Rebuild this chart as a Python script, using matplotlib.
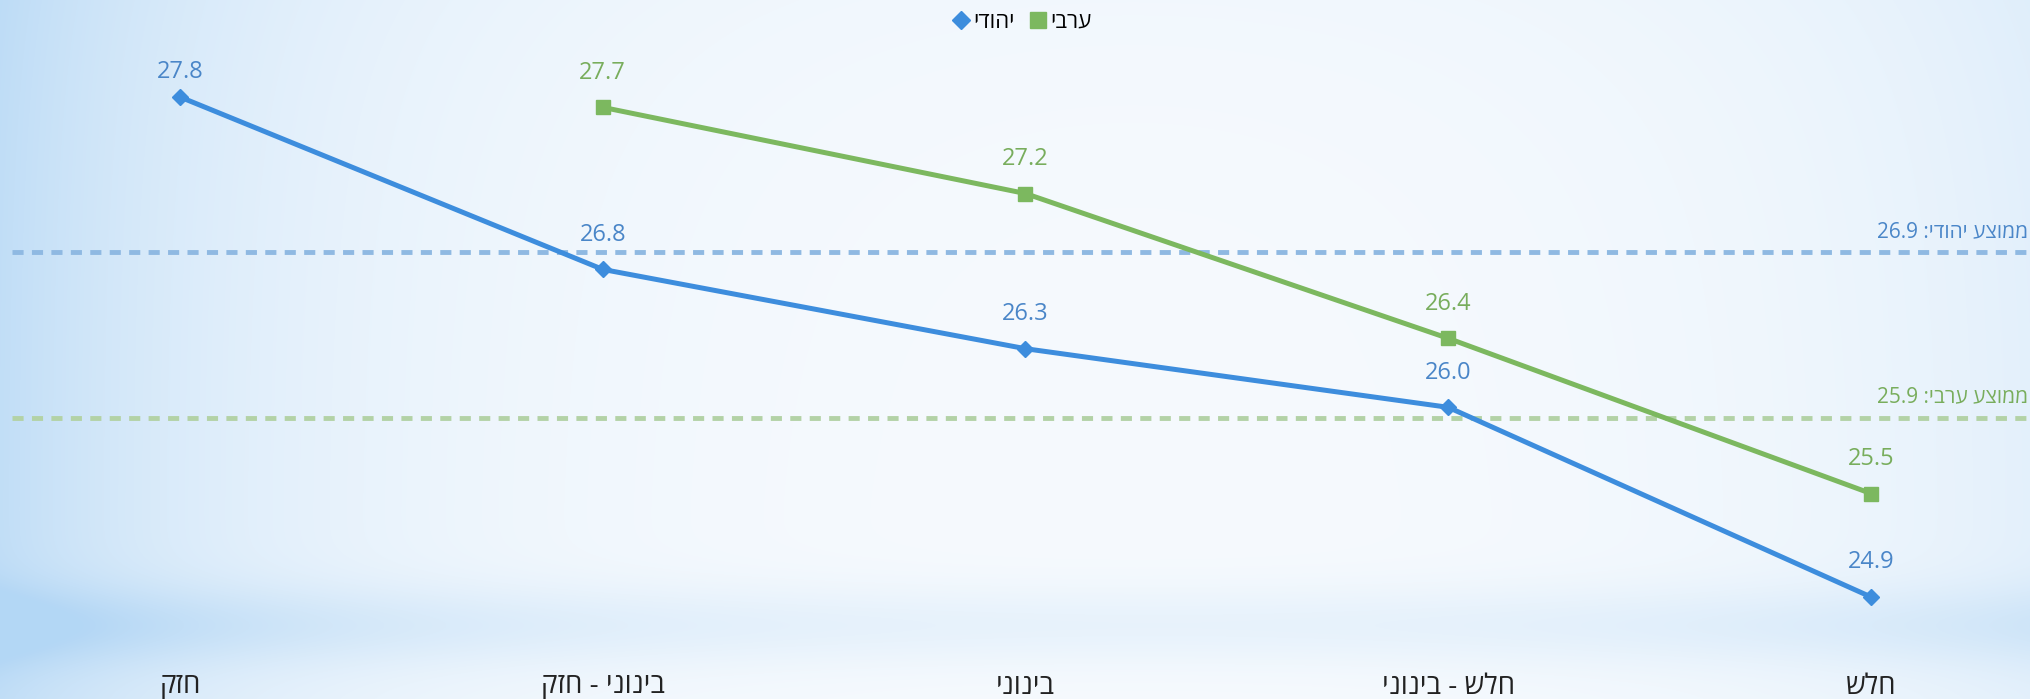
import numpy as np
import matplotlib
matplotlib.use("Agg")
import matplotlib.pyplot as plt
from matplotlib.lines import Line2D

plt.rcParams['font.family'] = ['Open Sans', 'DejaVu Sans']
plt.rcParams['lines.scale_dashes'] = False

# data
categories = ['חזק', 'בינוני - חזק', 'בינוני', 'חלש - בינוני', 'חלש']
jewish = [27.8, 26.8, 26.34, 26.0, 24.9]
arab = [np.nan, 27.74, 27.24, 26.4, 25.5]
avg_jewish = 26.9
avg_arab = 25.94
series_names = ['יהודי', 'ערבי']


def rtl(s):
    # matplotlib has no bidi support -> reverse hebrew to visual order
    return s[::-1]


W, H = 2031, 699
fig = plt.figure(figsize=(W / 100, H / 100), dpi=100)

# background gradient
bg = fig.add_axes([0, 0, 1, 1], zorder=0)
xx, yy = np.meshgrid(np.arange(W), np.arange(H))
base = np.array([248, 251, 254]) / 255.0
blue = np.array([180, 215, 245]) / 255.0
w = 0.8 * np.exp(-xx / 280.0) + 0.3 * np.exp(-(W - xx) / 300.0)
band = np.exp(-((yy - 625) / 40.0) ** 2) * (0.15 + 0.3 * np.exp(-xx / 500.0) + 0.15 * np.exp(-(W - xx) / 500.0))
w = w + band + 0.06 * np.exp(-yy / 150.0)
w = np.clip(w, 0, 1)[..., None]
img = base * (1 - w) + blue * w
bg.imshow(img, aspect='auto', extent=[0, 1, 0, 1])
bg.axis('off')

# main axes, pixel aligned
top_px, bot_px = 0, 660
ax = fig.add_axes([0, (H - bot_px) / H, 1, (bot_px - top_px) / H], zorder=1)
ax.patch.set_alpha(0)
x0_px, dx_px = 180, 422.75
ax.set_xlim(-x0_px / dx_px, 4 + (W - 1871) / dx_px)
ppu = 172.4
ax.set_ylim(27.8 - (bot_px - 97) / ppu, 27.8 + 97 / ppu)
for s in ax.spines.values():
    s.set_visible(False)
ax.set_yticks([])
x = np.arange(len(categories))
ax.set_xticks(x, [rtl(c) for c in categories], fontsize=20, color='#222222')
ax.tick_params(axis='x', length=0, pad=9)

blue_c = '#3d8ddd'
green_c = '#7cb85f'
blue_t = '#4a86c8'
green_t = '#78ad5c'

# average lines
xstart = ax.get_xlim()[0] + 12 / dx_px
ax.hlines(avg_jewish, xstart, ax.get_xlim()[1], colors='#8fb9e2', lw=3.5,
          linestyles=[(0, (8, 6))])
ax.hlines(avg_arab, xstart, ax.get_xlim()[1], colors='#b3d2a6', lw=3.5,
          linestyles=[(0, (8, 6))])
ax.annotate(f'{avg_jewish:.1f} :' + rtl('ממוצע יהודי'), (1, avg_jewish),
            xycoords=('axes fraction', 'data'), xytext=(-2, 11),
            textcoords='offset points', ha='right', va='baseline',
            fontsize=15, color=blue_t)
ax.annotate(f'{avg_arab:.1f} :' + rtl('ממוצע ערבי'), (1, avg_arab),
            xycoords=('axes fraction', 'data'), xytext=(-2, 11),
            textcoords='offset points', ha='right', va='baseline',
            fontsize=15, color=green_t)

# series
ax.plot(x, jewish, color=blue_c, lw=3.6, marker='D', ms=8, zorder=3)
ax.plot(x, arab, color=green_c, lw=3.6, marker='s', ms=10, zorder=3)

for xi, v in zip(x, jewish):
    dy = 18 if xi == 0 else 25
    ax.annotate(f'{v:.1f}', (xi, v), xytext=(0, dy), textcoords='offset points',
                ha='center', va='center', fontsize=17, color=blue_t)
for xi, v in zip(x, arab):
    if np.isnan(v):
        continue
    ax.annotate(f'{v:.1f}', (xi, v), xytext=(0, 25), textcoords='offset points',
                ha='center', va='center', fontsize=17, color=green_t)

handles = [Line2D([], [], ls='none', marker='D', ms=9, color=blue_c),
           Line2D([], [], ls='none', marker='s', ms=11, color=green_c)]
fig.legend(handles, [rtl(n) for n in series_names], loc='upper center',
           bbox_to_anchor=(0.503, 1.012), ncol=2, frameon=False, fontsize=16,
           handletextpad=0.1, columnspacing=0.6, handlelength=0.9)

fig.savefig('out.png', dpi=100)
